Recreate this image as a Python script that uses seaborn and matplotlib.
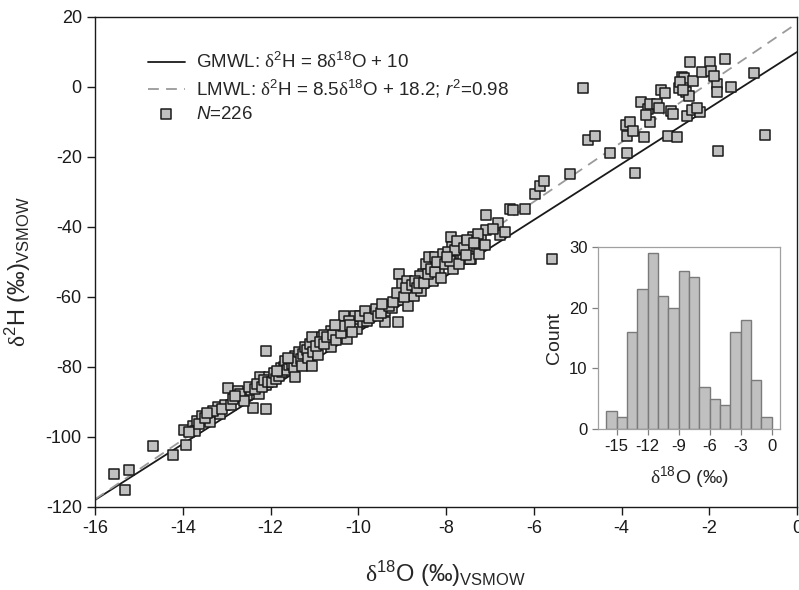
import numpy as np
import pandas as pd
import matplotlib
matplotlib.use('Agg')
import matplotlib.pyplot as plt
import seaborn as sns

# isotope data (per-mil, VSMOW)
d18O = [-15.57, -15.22, -15.31,
        -14.68, -14.23,
        -13.93, -13.97, -13.77, -13.67, -13.56, -13.71, -13.37, -13.20, -13.14, -13.04,
        -13.85, -13.62, -13.50, -13.30, -13.45, -13.10,
        -12.91, -12.98, -12.74, -12.65, -12.53, -12.45, -12.26, -12.23, -12.11, -12.39,
        -12.11, -12.10, -12.03, -12.85, -12.70, -12.60, -12.50, -12.35, -12.30, -12.20,
        -12.15, -12.80, -12.05,
        -11.97, -11.92, -11.88, -11.81, -11.77, -11.74, -11.69, -11.66, -11.62, -11.58,
        -11.55, -11.50, -11.47, -11.44, -11.40, -11.36, -11.31, -11.28, -11.25, -11.21,
        -11.16, -11.14, -11.10, -11.06, -11.05, -11.03, -11.45, -11.60, -11.85,
        -10.91, -10.82, -10.63, -10.63, -10.44, -10.32, -10.25, -10.07, -10.02, -10.78,
        -10.22, -10.96, -10.87, -10.77, -10.71, -10.57, -10.51, -10.39, -10.34, -10.19,
        -10.14, -10.54,
        -9.90, -9.79, -9.66, -9.38, -9.38, -9.10, -9.22, -9.06, -9.03, -9.01,
        -9.95, -9.85, -9.75, -9.60, -9.55, -9.48, -9.30, -9.20, -9.12, -9.45,
        -8.84, -8.87, -8.72, -8.57, -8.53, -8.45, -8.38, -8.90, -8.30, -8.26,
        -8.15, -8.06, -8.60, -8.95, -8.92, -8.78, -8.70, -8.65, -8.62, -8.50,
        -8.42, -8.35, -8.25, -8.20, -8.12, -8.03,
        -7.88, -7.86, -7.83, -7.65, -7.43, -7.39, -7.20, -7.08, -7.08, -7.62,
        -7.46, -7.28, -7.95, -7.92, -7.80, -7.75, -7.70, -7.58, -7.52, -7.30,
        -7.25, -7.55, -7.98, -7.12, -7.36,
        -6.82, -6.78, -6.66, -6.55, -6.47, -6.21, -6.92,
        -5.97, -5.85, -5.77, -5.58, -5.18,
        -4.87, -4.76, -4.61, -4.26,
        -3.88, -3.69, -3.88, -3.90, -3.81, -3.73, -3.49, -3.56, -3.35, -3.39,
        -3.35, -3.18, -3.11, -3.01, -3.45, -3.15,
        -2.93, -2.74, -2.88, -2.82, -2.70, -2.63, -2.57, -2.53, -2.47, -2.50,
        -2.40, -2.21, -2.44, -2.36, -2.17, -2.66, -2.59, -2.29,
        -1.98, -1.96, -1.83, -1.83, -1.79, -1.64, -1.51, -1.90,
        -0.97, -0.74]

d2H = [-110.6, -109.4, -115.2,
       -102.7, -105.1,
       -102.3, -97.9, -97.0, -95.3, -93.9, -98.2, -95.8, -91.3, -93.4, -90.8,
       -98.7, -96.2, -94.7, -92.7, -93.2, -92.0,
       -91.0, -86.1, -86.9, -88.6, -88.1, -86.7, -87.6, -82.8, -85.2, -91.7,
       -92.1, -75.4, -82.8, -89.2, -87.8, -89.8, -85.8, -86.3, -84.8, -85.8,
       -83.8, -88.3, -84.3,
       -84.3, -81.8, -83.3, -82.6, -80.3, -81.3, -80.0, -78.3, -80.8, -79.3,
       -77.8, -79.1, -80.3, -76.8, -78.3, -75.8, -77.6, -79.8, -76.3, -74.3,
       -75.2, -77.3, -73.3, -71.5, -79.6, -75.8, -82.8, -77.5, -81.1,
       -76.7, -71.3, -74.4, -69.6, -69.6, -65.5, -72.0, -65.3, -69.1, -71.0,
       -66.8, -73.9, -72.9, -73.4, -71.4, -70.9, -72.4, -70.4, -68.4, -67.9,
       -69.9, -67.9,
       -67.2, -66.8, -64.8, -63.9, -67.2, -67.2, -63.1, -53.4, -61.0, -56.3,
       -65.5, -64.0, -66.0, -63.5, -65.5, -64.5, -62.5, -61.5, -59.0, -62.0,
       -57.7, -62.5, -59.6, -58.2, -53.4, -50.6, -48.6, -55.5, -55.3, -48.6,
       -52.0, -47.7, -54.0, -60.0, -57.5, -56.5, -55.5, -57.5, -56.0, -56.0,
       -53.5, -52.0, -53.0, -50.0, -54.5, -50.5,
       -42.9, -45.8, -51.9, -48.6, -49.1, -42.9, -43.4, -41.0, -36.7, -49.1,
       -49.1, -42.0, -47.1, -49.6, -46.6, -44.1, -50.6, -46.1, -43.6, -45.6,
       -47.6, -48.1, -48.6, -45.1, -44.5,
       -39.0, -42.4, -41.4, -34.8, -35.1, -34.8, -40.6,
       -30.6, -28.2, -27.0, -49.1, -24.8,
       -0.2, -15.2, -13.9, -18.8,
       -18.9, -24.6, -13.9, -10.8, -10.1, -12.5, -14.2, -4.3, -10.1, -6.4,
       -4.8, -4.8, -0.8, -1.8, -7.9, -5.9,
       -13.9, -14.2, -7.0, -7.8, -0.4, 2.8, 2.6, -1.5, -2.5, -8.4,
       -6.7, -7.2, 7.0, 1.8, 4.2, 1.5, -1.0, -5.9,
       7.0, 4.5, 0.9, -1.5, -18.3, 8.0, -0.1, 3.0,
       4.0, -13.8]

# meteoric water lines: slope, intercept
line_slopes = [8.0, 8.5]
line_intercepts = [10.0, 18.2]

# inset histogram of d18O (1 per-mil bins)
hist_edges = list(range(-16, 1))
hist_counts = [3, 2, 16, 23, 29, 22, 20, 26, 25, 7, 5, 4, 16, 18, 8, 2]

sns.set_style('ticks')
plt.rcParams['font.family'] = ['Liberation Sans', 'DejaVu Sans']
plt.rcParams['axes.unicode_minus'] = False
plt.rcParams['mathtext.fontset'] = 'custom'
plt.rcParams['mathtext.rm'] = 'Liberation Sans'
plt.rcParams['mathtext.it'] = 'Liberation Sans:italic'
plt.rcParams['mathtext.sf'] = 'Liberation Serif'

D = r'\mathsf{\delta}'

fig = plt.figure(figsize=(7.99, 5.90), dpi=100)
ax = fig.add_axes([0.1189, 0.1407, 0.8786, 0.8305])

xl = np.array([-16.0, 0.0])
sns.lineplot(x=xl, y=line_slopes[0] * xl + line_intercepts[0], ax=ax, color='#1a1a1a', lw=1.3,
             label=r'GMWL: $%s^{2}$H = 8$%s^{18}$O + 10' % (D, D))
sns.lineplot(x=xl, y=line_slopes[1] * xl + line_intercepts[1], ax=ax, color='#9a9a9a', lw=1.3,
             label=r'LMWL: $%s^{2}$H = 8.5$%s^{18}$O + 18.2; $r^{2}$=0.98' % (D, D))
ax.lines[1].set_dashes((6, 4))
df = pd.DataFrame({'d18O': d18O, 'd2H': d2H})
sns.scatterplot(data=df, x='d18O', y='d2H', ax=ax, marker='s', s=58, color='#c0c0c0',
                edgecolor='#1a1a1a', linewidth=1.1, zorder=3, label='$N$=226')

ax.set_xlim(-16, 0)
ax.set_ylim(-120, 20)
ax.set_xticks(range(-16, 1, 2))
ax.set_yticks(range(-120, 21, 20))
for s in ax.spines.values():
    s.set_visible(True)
    s.set_color('#1a1a1a')
    s.set_linewidth(1.0)
ax.tick_params(direction='out', length=6, width=1.0, labelsize=13, colors='#1a1a1a')
ax.set_xlabel(r'$%s^{18}$O (‰)$_{\mathrm{VSMOW}}$' % D, fontsize=17)
ax.set_ylabel(r'$%s^{2}$H (‰)$_{\mathrm{VSMOW}}$' % D, fontsize=17)
ax.xaxis.set_label_coords(0.5, -0.105)
ax.yaxis.set_label_coords(-0.088, 0.48)

leg = ax.legend(loc='upper left', bbox_to_anchor=(0.051, 0.963), frameon=False, fontsize=13.5,
                handlelength=2.0, handletextpad=0.6, labelspacing=0.3)

# inset histogram
ax2 = fig.add_axes([598 / 799, 1 - 429 / 590, 182 / 799, 182 / 590])
centers = [e + 0.5 for e in hist_edges[:-1]]
sns.histplot(x=centers, weights=hist_counts, bins=hist_edges, ax=ax2, color='#c0c0c0',
             edgecolor='#7a7a7a', linewidth=1.0, alpha=1)
ax2.set_xlim(-16.8, 0.8)
ax2.set_ylim(0, 30)
ax2.set_xticks([-15, -12, -9, -6, -3, 0])
ax2.set_yticks([0, 10, 20, 30])
for s in ax2.spines.values():
    s.set_visible(True)
    s.set_color('#a0a0a0')
    s.set_linewidth(0.9)
ax2.tick_params(direction='out', length=4, width=0.9, labelsize=12, color='#808080', labelcolor='#1a1a1a')
ax2.set_xlabel(r'$%s^{18}$O (‰)' % D, fontsize=14, labelpad=7)
ax2.set_ylabel('Count', fontsize=14, labelpad=4)

fig.savefig('out.png', dpi=100)
